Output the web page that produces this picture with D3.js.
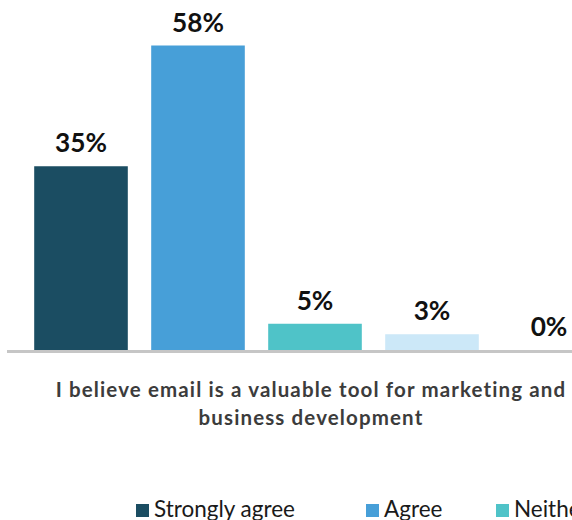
<!DOCTYPE html>
<html>
<head>
<meta charset="utf-8">
<script src="https://cdn.jsdelivr.net/npm/d3@7"></script>
<style>
  html, body { margin: 0; padding: 0; background: #fff; overflow: hidden; }
  svg { display: block; }
</style>
</head>
<body>
<svg id="chart" width="572" height="520"></svg>
<script>
const categories = ["Strongly agree", "Agree", "Neither agree nor disagree", "Disagree", "Strongly disagree"];
const values = [35, 58, 5, 3, 0];
const valueLabels = ["35%", "58%", "5%", "3%", "0%"];
const colors = ["#1b4d62", "#479fd8", "#4fc3c8", "#cce8f8", "#9aa3a8"];
const titleLines = ["I believe email is a valuable tool for marketing and", "business development"];

const W = 572, H = 520;
const svg = d3.select("#chart");
const FONT = "Lato, 'Open Sans', sans-serif";

// fit a text selection's font size so that a reference string spans a target width
function fitSize(sel, target) {
  const base = +sel.attr("font-size");
  const w = sel.node().getComputedTextLength();
  return base * target / w;
}

const x = d3.scaleBand().domain(categories).range([22.5, 607.5]).paddingInner(0.2).paddingOuter(0.1);
const y = d3.scaleLinear().domain([0, 60]).range([350, 35]);

// bars
svg.append("g").selectAll("rect").data(values).join("rect")
  .attr("x", (d, i) => x(categories[i]))
  .attr("width", x.bandwidth())
  .attr("y", d => y(d))
  .attr("height", d => y(0) - y(d))
  .attr("fill", (d, i) => colors[i]);

// baseline axis
const axis = d3.axisBottom(x).tickSize(0).tickFormat("");
const ax = svg.append("g").attr("transform", `translate(0,${y(0) + 1.5})`).call(axis);
ax.select(".domain").attr("d", `M7,0H${W}`).attr("stroke", "#c6c6c6").attr("stroke-width", 3);

// value labels
const labels = svg.append("g").selectAll("text").data(values).join("text")
  .attr("x", (d, i) => x(categories[i]) + x.bandwidth() / 2)
  .attr("y", d => y(d) - 14)
  .attr("text-anchor", "middle")
  .attr("font-family", FONT)
  .attr("font-weight", 700)
  .attr("font-size", 25)
  .attr("fill", "#111")
  .text((d, i) => valueLabels[i]);
labels.attr("font-size", fitSize(labels.filter((d, i) => i === 0), 52));

// title (category axis label)
const title = svg.append("g").selectAll("text").data(titleLines).join("text")
  .attr("x", 311)
  .attr("y", (d, i) => 397 + i * 28)
  .attr("text-anchor", "middle")
  .attr("font-family", FONT)
  .attr("font-weight", 700)
  .attr("font-size", 20.5)
  .attr("fill", "#3c3c3c")
  .text(d => d);
{
  const n0 = title.filter((d, i) => i === 0);
  const w = n0.node().getComputedTextLength();
  const ls = (511 - w) / titleLines[0].length;
  title.attr("letter-spacing", ls);
}

// legend
const legendX = [136, 366, 496, 760, 900];
const lg = svg.append("g").selectAll("g").data(categories).join("g")
  .attr("transform", (d, i) => `translate(${legendX[i]},504)`);
lg.append("rect").attr("width", 13).attr("height", 13).attr("fill", (d, i) => colors[i]);
const lt = lg.append("text")
  .attr("x", 18).attr("y", 12.5)
  .attr("font-family", FONT)
  .attr("font-size", 22)
  .attr("fill", "#1a1a1a")
  .text(d => d);
lt.attr("font-size", fitSize(lt.filter((d, i) => i === 0), 141));
</script>
</body>
</html>
